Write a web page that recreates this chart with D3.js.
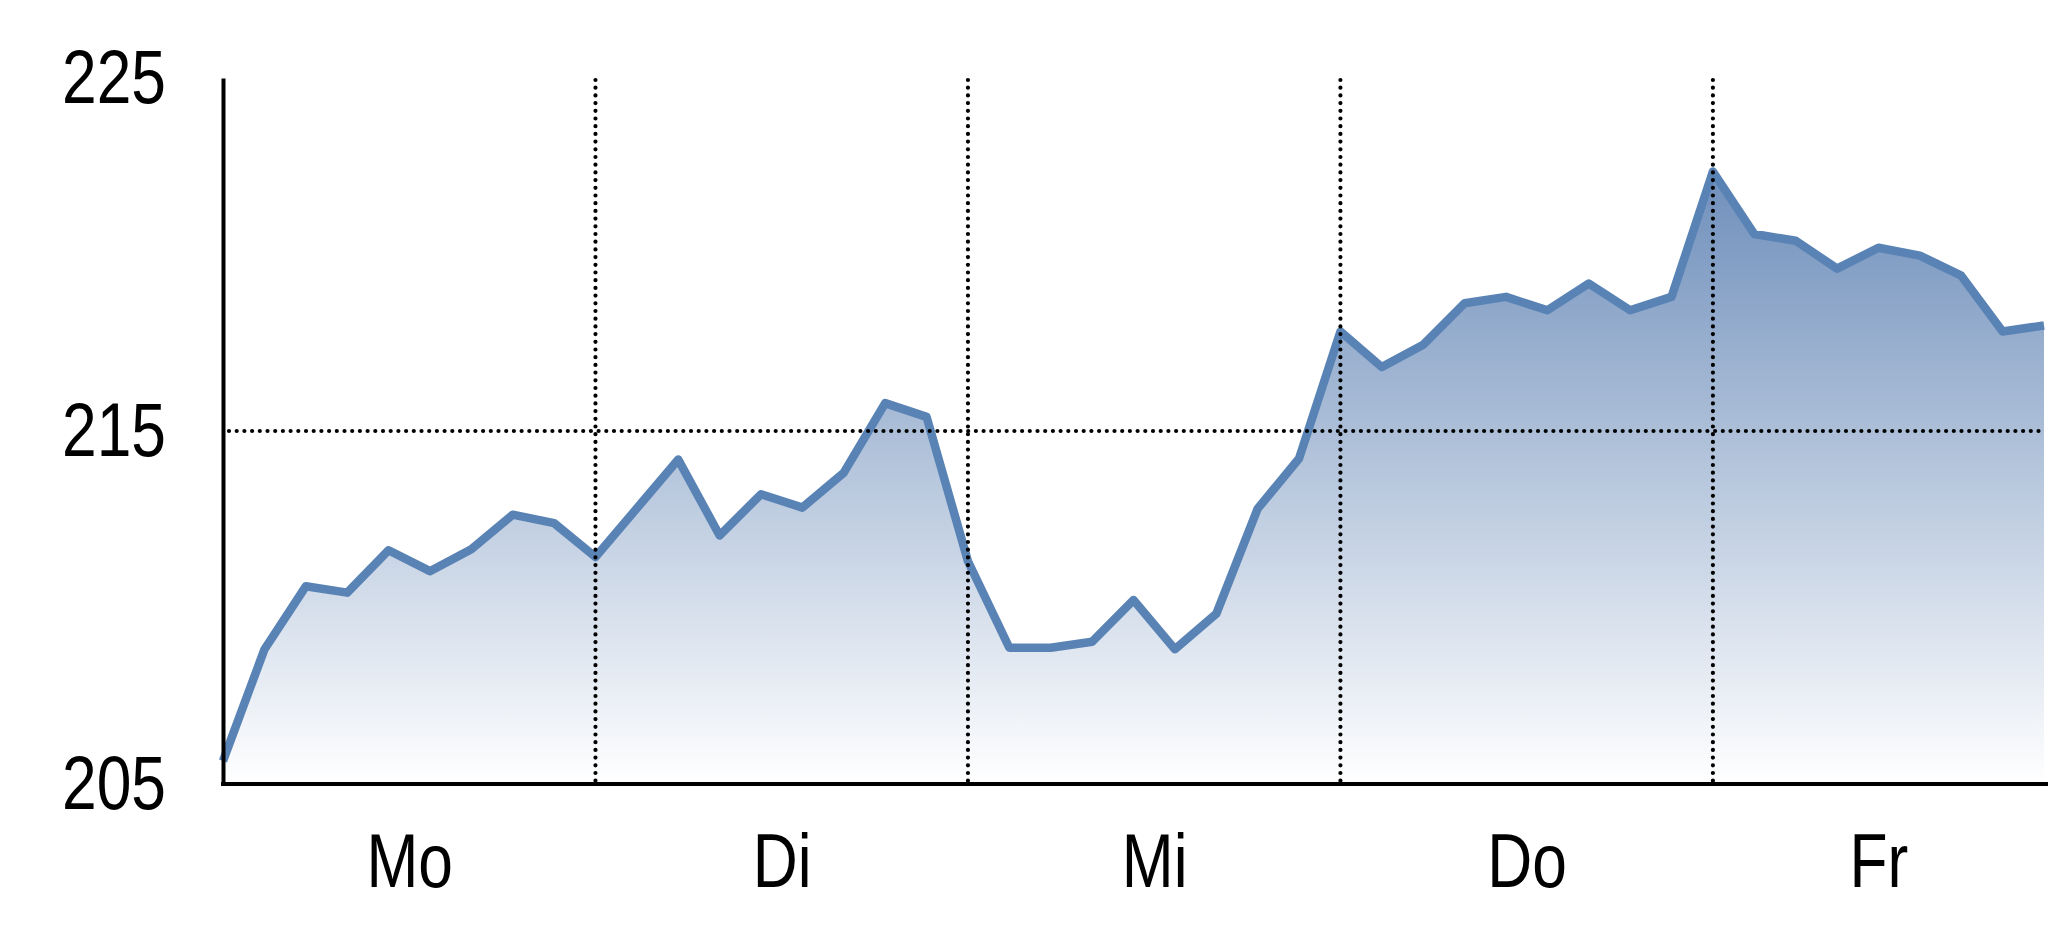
<!DOCTYPE html>
<html>
<head>
<meta charset="utf-8">
<script src="https://cdn.jsdelivr.net/npm/d3@7"></script>
<style>
  html, body { margin: 0; padding: 0; background: #ffffff; overflow: hidden; }
  svg { display: block; }
  .lbl { font-family: 'Liberation Sans Narrow', 'Arial Narrow', 'Liberation Sans', Arial, sans-serif; font-size: 76px; fill: #000; }
</style>
</head>
<body>
<svg id="chart" width="2048" height="937"></svg>
<script>
// ---- data ----
const days = ["Mo", "Di", "Mi", "Do", "Fr"];
const dayStartIndex = [0, 9, 18, 27, 36];
const prices = [
  205.65, 208.81, 210.60, 210.42, 211.62, 211.03, 211.65, 212.63, 212.39,
  211.43, 212.81, 214.19, 212.04, 213.21, 212.83, 213.82, 215.79, 215.40,
  211.31, 208.86, 208.86, 209.03, 210.21, 208.82, 209.82, 212.80, 214.22,
  217.82, 216.81, 217.44, 218.62, 218.80, 218.42, 219.18, 218.42, 218.80,
  222.35, 220.58, 220.39, 219.60, 220.19, 219.97, 219.40, 217.82, 217.99
];
const yTicks = [205, 215, 225];
const yGridValues = [215];

(function () {
  // ---- layout ----
  const W = 2048;
  const mLeft = 223, mRight = 2044, mTop = 78, mBottom = 784;
  const lastIndex = prices.length - 1;

  const x = d3.scaleLinear().domain([0, lastIndex]).range([mLeft, mRight]);
  const y = d3.scaleLinear().domain([205, 225]).range([mBottom, mTop]);

  const svg = d3.select("#chart");

  // gradient
  const defs = svg.append("defs");
  const grad = defs.append("linearGradient")
    .attr("id", "areaGrad")
    .attr("gradientUnits", "userSpaceOnUse")
    .attr("x1", 0).attr("x2", 0)
    .attr("y1", y(d3.max(prices))).attr("y2", y(205));
  grad.append("stop").attr("offset", 0).attr("stop-color", "#6f8fbb");
  grad.append("stop").attr("offset", 1).attr("stop-color", "#ffffff");

  const data = prices.map((v, i) => ({ i, v }));

  // area
  svg.append("path")
    .datum(data)
    .attr("fill", "url(#areaGrad)")
    .attr("d", d3.area().x(d => x(d.i)).y0(y(205)).y1(d => y(d.v)));

  // line
  svg.append("path")
    .datum(data)
    .attr("fill", "none")
    .attr("stroke", "#5a83b5")
    .attr("stroke-width", 8.5)
    .attr("stroke-linejoin", "round")
    .attr("stroke-linecap", "butt")
    .attr("d", d3.line().x(d => x(d.i)).y(d => y(d.v)));

  // dotted grid lines (drawn on top)
  const grid = svg.append("g")
    .attr("stroke", "#000")
    .attr("stroke-width", 4.2)
    .attr("stroke-linecap", "round")
    .attr("stroke-dasharray", "0 7.7")
    .attr("fill", "none");

  grid.selectAll("line.v")
    .data(dayStartIndex.slice(1))
    .join("line")
    .attr("class", "v")
    .attr("x1", d => x(d)).attr("x2", d => x(d))
    .attr("y1", y(225) + 2).attr("y2", y(205) - 2);

  grid.selectAll("line.h")
    .data(yGridValues)
    .join("line")
    .attr("class", "h")
    .attr("x1", x(0) + 6).attr("x2", x(lastIndex))
    .attr("y1", d => y(d)).attr("y2", d => y(d));

  // y axis
  const yAxis = svg.append("g")
    .attr("transform", `translate(${mLeft},0)`)
    .call(d3.axisLeft(y).tickValues(yTicks).tickSize(0).tickSizeOuter(0).tickPadding(57));
  yAxis.attr("font-family", null).attr("font-size", null);
  yAxis.select(".domain").attr("stroke", "#000").attr("stroke-width", 4);
  yAxis.selectAll("text").attr("class", "lbl");

  // x axis labels at middle of each (visible) day
  const dayMid = dayStartIndex.map((s, k) => {
    const e = k < dayStartIndex.length - 1 ? dayStartIndex[k + 1] : lastIndex;
    return (s + e) / 2;
  });
  const xAxis = svg.append("g")
    .attr("transform", `translate(0,${mBottom})`)
    .call(d3.axisBottom(x).tickValues(dayMid).tickFormat((d, k) => days[k]).tickSize(0).tickSizeOuter(0).tickPadding(49));
  xAxis.attr("font-family", null).attr("font-size", null);
  xAxis.select(".domain").remove();
  xAxis.selectAll("text").attr("class", "lbl");

  // baseline extending to the right edge
  svg.append("line")
    .attr("x1", mLeft - 2).attr("x2", W)
    .attr("y1", mBottom).attr("y2", mBottom)
    .attr("stroke", "#000").attr("stroke-width", 4);

  // if no narrow font is available, condense the regular one
  let needCondense = false;
  yAxis.selectAll("text").each(function () {
    if (d3.select(this).text() === "225" && this.getComputedTextLength() > 112) needCondense = true;
  });
  if (needCondense) {
    svg.selectAll("text.lbl").each(function () {
      const t = d3.select(this);
      const bb = this.getBBox();
      const anchor = this.parentNode.parentNode.getAttribute("text-anchor");
      const ax = anchor === "end" ? bb.x + bb.width : bb.x + bb.width / 2;
      t.attr("transform", `translate(${ax},0) scale(0.82,1) translate(${-ax},0)`);
    });
  }
})();
</script>
</body>
</html>
